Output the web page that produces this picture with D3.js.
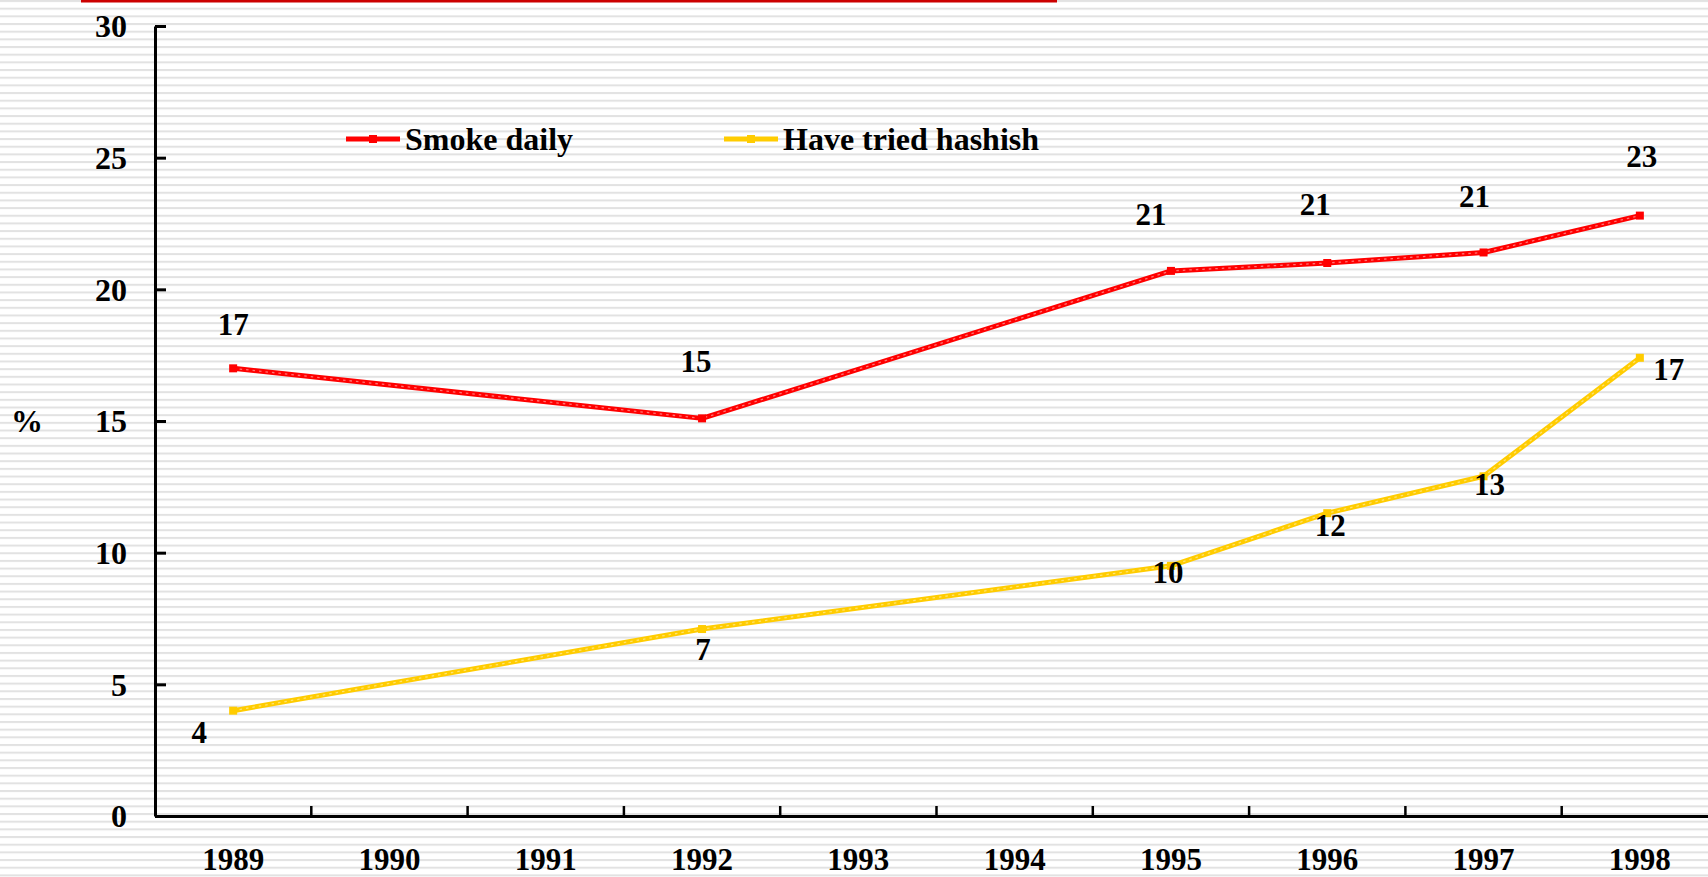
<!DOCTYPE html>
<html>
<head>
<meta charset="utf-8">
<script src="https://cdn.jsdelivr.net/npm/d3@7"></script>
<style>
  html, body { margin: 0; padding: 0; background: #fff; overflow: hidden; }
  text { font-family: "Liberation Serif", "Times New Roman", serif; font-weight: bold; fill: #000; }
</style>
</head>
<body>
<svg id="svg" width="1708" height="877"></svg>
<script>
var years = ["1989", "1990", "1991", "1992", "1993", "1994", "1995", "1996", "1997", "1998"];
var smokeDaily = [17.0, null, null, 15.1, null, null, 20.7, 21.0, 21.4, 22.8];
var triedHashish = [4.0, null, null, 7.1, null, null, 9.5, 11.5, 12.9, 17.4];
var seriesNames = ["Smoke daily", "Have tried hashish"];
var yTicks = [0, 5, 10, 15, 20, 25, 30];

// label offsets from the point (layout only)
var smokeLabelOff = [[0, -44], null, null, [-6, -57], null, null, [-20, -56], [-12, -59], [-9, -56], [2, -59]];
var hashLabelOff = [[-34, 22], null, null, [1, 20], null, null, [-3, 7], [3, 12], [6, 8], [29, 12]];

var svg = d3.select("#svg"),
    width = +svg.attr("width"),
    height = +svg.attr("height");

// striped background
var defs = svg.append("defs");
var pat = defs.append("pattern")
    .attr("id", "stripes")
    .attr("patternUnits", "userSpaceOnUse")
    .attr("width", 10)
    .attr("height", 7.67);
pat.append("rect").attr("width", 10).attr("height", 7.67).attr("fill", "#ffffff");
pat.append("rect").attr("width", 10).attr("height", 2).attr("fill", "#e2e2e2");

svg.append("rect")
    .attr("width", width)
    .attr("height", height)
    .attr("fill", "url(#stripes)");

// title rule at top
svg.append("rect")
    .attr("x", 81).attr("y", 0)
    .attr("width", 976).attr("height", 2.5)
    .attr("fill", "#cc0000");

var x = d3.scaleBand()
    .domain(years)
    .range([155, 155 + 1563]);

var y = d3.scaleLinear()
    .domain([0, 30])
    .range([816, 26]);

// y axis
var gy = svg.append("g")
    .attr("transform", "translate(155,0)")
    .call(d3.axisLeft(y)
      .tickValues(yTicks)
      .tickSize(-11)
      .tickPadding(28)
      .tickSizeOuter(0));
gy.select(".domain").attr("stroke", "#000").attr("stroke-width", 3);
gy.selectAll(".tick line").attr("stroke", "#000").attr("stroke-width", 3);
gy.selectAll(".tick text")
    .attr("font-size", 32)
    .attr("font-family", null)
    .attr("dy", "0.34em");

// x axis
var gx = svg.append("g")
    .attr("transform", "translate(0,816)")
    .call(d3.axisBottom(x).tickSize(0).tickPadding(0).tickSizeOuter(0));
gx.select(".domain").attr("stroke", "#000").attr("stroke-width", 3);
gx.selectAll(".tick text")
    .attr("font-size", 31)
    .attr("font-family", null)
    .attr("y", 54)
    .attr("dy", 0);

gx.selectAll(".sep")
  .data(years.slice(1))
  .enter().append("line")
    .attr("class", "sep")
    .attr("x1", function(d) { return x(d); })
    .attr("x2", function(d) { return x(d); })
    .attr("y1", 0)
    .attr("y2", -10)
    .attr("stroke", "#000")
    .attr("stroke-width", 2.5);

svg.append("text")
    .attr("x", 27)
    .attr("y", 421)
    .attr("dy", "0.34em")
    .attr("text-anchor", "middle")
    .attr("font-size", 32)
    .text("%");

// series
var series = [
  { name: seriesNames[0], values: smokeDaily, color: "#ff0000", hi: "#ff9090", off: smokeLabelOff },
  { name: seriesNames[1], values: triedHashish, color: "#ffcc00", hi: "#ffe88a", off: hashLabelOff }
];

var line = d3.line()
    .defined(function(d) { return d.v != null; })
    .x(function(d) { return x(d.year) + x.bandwidth() / 2; })
    .y(function(d) { return y(d.v); });

series.forEach(function(s) {
  var pts = years.map(function(yr, i) { return { year: yr, v: s.values[i], off: s.off[i] }; })
      .filter(function(d) { return d.v != null; });

  svg.append("path")
      .datum(pts)
      .attr("fill", "none")
      .attr("stroke", s.color)
      .attr("stroke-width", 5)
      .attr("stroke-linejoin", "round")
      .attr("d", line);

  svg.append("path")
      .datum(pts)
      .attr("fill", "none")
      .attr("stroke", s.hi)
      .attr("stroke-width", 1.3)
      .attr("stroke-dasharray", "2.5 4")
      .attr("opacity", 0.8)
      .attr("d", line);

  svg.selectAll(null)
    .data(pts)
    .enter().append("rect")
      .attr("x", function(d) { return x(d.year) + x.bandwidth() / 2 - 4; })
      .attr("y", function(d) { return y(d.v) - 4; })
      .attr("width", 8)
      .attr("height", 8)
      .attr("fill", s.color);

  svg.selectAll(null)
    .data(pts)
    .enter().append("text")
      .attr("x", function(d) { return x(d.year) + x.bandwidth() / 2 + d.off[0]; })
      .attr("y", function(d) { return y(d.v) + d.off[1]; })
      .attr("dy", "0.34em")
      .attr("text-anchor", "middle")
      .attr("font-size", 31)
      .text(function(d) { return Math.round(d.v); });
});

// legend
var legend = svg.append("g");
var legendX = [346, 724];
series.forEach(function(s, i) {
  var lg = legend.append("g").attr("transform", "translate(" + legendX[i] + ",139)");
  lg.append("line")
      .attr("x1", 0).attr("x2", 54)
      .attr("y1", 0).attr("y2", 0)
      .attr("stroke", s.color)
      .attr("stroke-width", 5);
  lg.append("rect")
      .attr("x", 23).attr("y", -4)
      .attr("width", 8).attr("height", 8)
      .attr("fill", s.color);
  lg.append("text")
      .attr("x", 59)
      .attr("y", 11)
      .attr("font-size", 32)
      .text(s.name);
});
</script>
</body>
</html>
